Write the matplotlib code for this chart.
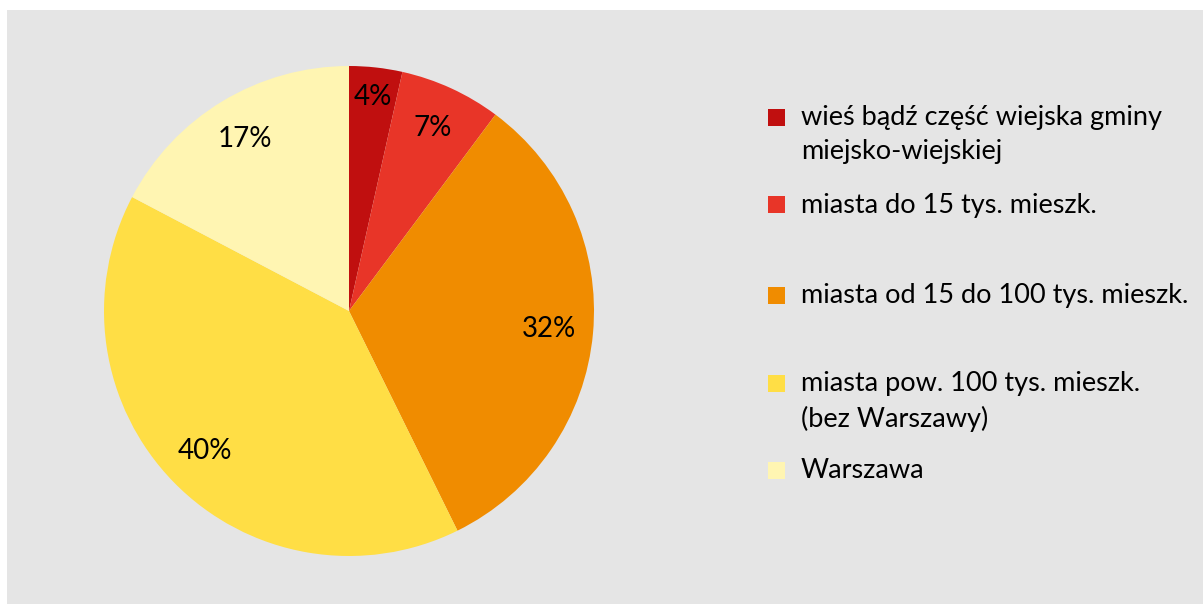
import numpy as np
import matplotlib.pyplot as plt
from matplotlib.patches import Rectangle

plt.rcParams['font.family'] = ['Lato', 'DejaVu Sans']

# data
categories = ['wieś bądź część wiejska gminy\nmiejsko-wiejskiej',
              'miasta do 15 tys. mieszk.',
              'miasta od 15 do 100 tys. mieszk.',
              'miasta pow. 100 tys. mieszk.\n(bez Warszawy)',
              'Warszawa']
shares = [3.5, 6.7, 32.5, 40.0, 17.3]
pct_labels = ['4%', '7%', '32%', '40%', '17%']
colors = ['#c00f0f', '#e83528', '#f08c00', '#ffde45', '#fff5b2']

W, H = 1203, 604
fig = plt.figure(figsize=(W/100, H/100), dpi=100)
fig.patch.set_facecolor('white')
# grey panel
fig.patches.append(Rectangle((7/W, 0), 1, (H-10)/H, transform=fig.transFigure,
                             facecolor='#e5e5e5', edgecolor='none', zorder=-5))

cx, cy, r = 349, 311, 245
ax = fig.add_axes([(cx-r)/W, (H-cy-r)/H, 2*r/W, 2*r/H])
ax.set_facecolor('none')
ax.set_zorder(2)

wedges, texts, autotexts = ax.pie(shares, colors=colors, startangle=90, counterclock=False,
                                  autopct='%d', pctdistance=0.82,
                                  textprops=dict(fontsize=20, color='black'))
for t, lab in zip(autotexts, pct_labels):
    t.set_text(lab)
# small slice label sits a bit further out
x0, y0 = autotexts[0].get_position()
autotexts[0].set_position((x0*0.88/0.82, y0*0.88/0.82))
ax.set_xlim(-1, 1)
ax.set_ylim(-1, 1)
ax.set_aspect('equal')
ax.axis('off')

# legend drawn by hand
leg_y = [117, 205, 295, 383, 470]
for lab, col, y in zip(categories, colors, leg_y):
    fig.patches.append(Rectangle((768/W, (H-y-8.5)/H), 17/W, 17/H, transform=fig.transFigure,
                                 facecolor=col, edgecolor='none', zorder=1))
    fig.text(801/W, (H-y+12)/H, lab, fontsize=19.5, va='top', ha='left',
             linespacing=1.45, transform=fig.transFigure)

fig.savefig('out.png', dpi=100)
